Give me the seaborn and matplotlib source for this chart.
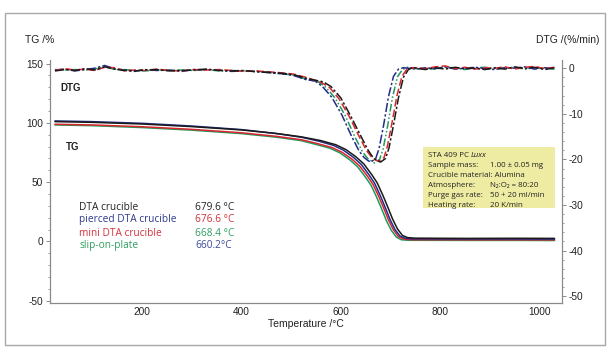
import numpy as np
import pandas as pd
import matplotlib.pyplot as plt
import matplotlib.patches as mpatches
from matplotlib.ticker import MultipleLocator
import seaborn as sns

# temperature grids (degC)
low_t = [25, 45, 65, 85, 105, 125, 145, 165, 185, 205, 230, 255, 280, 305,
         330, 355, 380, 405, 430, 455, 480, 505, 530]
high_t = [752, 770, 790, 810, 830, 850, 870, 890, 910, 930, 950, 970, 990, 1010, 1030]

# DTG curves (%/min): baseline before the step, the dip, baseline after
dtg_black_low = [-0.6, -0.3, -0.5, -0.1, -0.4, 0.3, -0.2, -0.5, -0.6, -0.4, -0.3, -0.6,
                 -0.5, -0.4, -0.2, -0.5, -0.6, -0.5, -0.8, -0.9, -1.1, -1.4, -2.2]
dtg_blue_low = [-0.4, -0.2, -0.6, -0.3, 0.0, 0.6, -0.1, -0.4, -0.7, -0.3, -0.5, -0.4,
                -0.7, -0.3, -0.3, -0.4, -0.7, -0.6, -0.7, -1.0, -1.2, -1.6, -2.5]
dtg_red_low = [-0.5, -0.1, -0.4, -0.2, -0.5, 0.2, 0.1, -0.6, -0.4, -0.5, -0.2, -0.5,
               -0.6, -0.3, -0.4, -0.3, -0.5, -0.7, -0.6, -0.8, -1.0, -1.3, -2.0]
dtg_green_low = [-0.3, -0.4, -0.3, -0.4, -0.2, 0.4, -0.3, -0.3, -0.5, -0.6, -0.4, -0.5,
                 -0.4, -0.5, -0.3, -0.6, -0.5, -0.6, -0.7, -0.9, -1.2, -1.5, -2.4]

dip_black_t = [565, 580, 600, 620, 640, 655, 665, 672, 680, 690, 697, 706, 716, 726, 736, 746]
dip_black = [-3.0, -4.0, -6.5, -10.5, -14.8, -18.0, -19.6, -20.2, -20.6, -19.8, -17.5,
             -12.5, -6.5, -2.0, -0.3, 0.2]
dip_red_t = [562, 578, 597, 617, 637, 652, 662, 669, 677, 687, 694, 703, 713, 723, 733, 743]
dip_red = [-3.2, -4.3, -6.8, -10.6, -15.0, -18.1, -19.5, -20.1, -20.4, -19.6, -17.0,
           -12.0, -6.0, -1.8, -0.2, 0.1]
dip_green_t = [555, 570, 589, 609, 629, 644, 654, 661, 668, 678, 685, 694, 704, 714, 724, 734]
dip_green = [-3.0, -4.2, -6.6, -10.4, -15.2, -18.4, -19.8, -20.3, -20.8, -20.0, -17.8,
             -12.8, -6.4, -1.9, -0.3, 0.2]
dip_blue_t = [548, 563, 582, 602, 622, 637, 647, 654, 660, 670, 677, 686, 696, 706, 716, 726]
dip_blue = [-2.8, -4.0, -6.4, -10.2, -15.0, -18.2, -19.6, -20.2, -20.6, -19.9, -17.6,
            -12.6, -6.2, -1.8, -0.2, 0.1]

dtg_black_high = [0.0, -0.3, 0.1, -0.2, 0.2, -0.1, 0.0, -0.3, 0.1, -0.2, 0.3, -0.1, 0.2, -0.3, 0.1]
dtg_blue_high = [-0.2, 0.1, -0.1, 0.3, -0.2, 0.0, 0.2, -0.1, -0.3, 0.1, 0.0, 0.3, -0.2, 0.1, -0.1]
dtg_red_high = [0.1, -0.1, 0.3, 0.5, -0.1, 0.2, -0.2, 0.1, 0.0, 0.3, -0.2, 0.2, 0.4, -0.1, 0.2]
dtg_green_high = [-0.1, 0.0, -0.2, 0.2, 0.1, -0.3, 0.1, 0.2, -0.1, 0.0, 0.2, -0.2, 0.1, 0.0, -0.2]

# TG curves (%)
tg_black_t = [25, 100, 200, 300, 400, 470, 520, 560, 590, 610, 630, 646, 662, 673, 684,
              694, 704, 714, 724, 734, 749, 850, 950, 1030]
tg_black = [101.0, 100.4, 99.0, 96.8, 94.0, 91.0, 88.2, 85.0, 81.5, 77.5, 71.5, 65.5, 56.5,
            49.5, 39.5, 29.5, 19.0, 10.5, 5.0, 3.2, 2.7, 2.5, 2.6, 2.5]
tg_blue_t = [25, 100, 200, 300, 400, 470, 520, 555, 585, 605, 625, 641, 657, 668, 679,
             689, 699, 709, 719, 729, 744, 850, 950, 1030]
tg_blue = [101.6, 101.0, 99.6, 97.3, 94.3, 91.0, 87.9, 84.6, 81.0, 77.0, 71.0, 65.0, 56.0,
           49.0, 39.0, 29.0, 18.5, 10.0, 4.5, 2.6, 2.1, 2.0, 2.0, 1.9]
tg_red_t = [25, 100, 200, 300, 400, 470, 520, 552, 582, 602, 622, 638, 654, 665, 676,
            686, 696, 706, 716, 726, 741, 850, 950, 1030]
tg_red = [98.8, 98.2, 96.7, 94.5, 91.6, 88.6, 85.8, 82.6, 79.2, 75.3, 69.5, 63.5, 54.8,
          48.0, 38.2, 28.4, 18.0, 9.6, 4.0, 1.9, 1.4, 1.3, 1.3, 1.2]
tg_green_t = [25, 100, 200, 300, 400, 470, 520, 548, 578, 598, 618, 634, 650, 661, 672,
              682, 692, 702, 712, 722, 737, 850, 950, 1030]
tg_green = [98.2, 97.6, 96.0, 93.8, 90.9, 87.9, 85.0, 82.0, 78.6, 74.7, 68.8, 62.8, 54.0,
            47.2, 37.4, 27.6, 17.2, 9.0, 3.5, 1.3, 0.9, 0.8, 0.8, 0.7]

labels = ["DTA crucible", "pierced DTA crucible", "mini DTA crucible", "slip-on-plate"]
peak_text = ["679.6 \u00b0C", "676.6 \u00b0C", "668.4 \u00b0C", "660.2\u00b0C"]

c_black, c_blue, c_red, c_green = "#1a1a1a", "#232c86", "#d8262f", "#1f9a5c"
label_colors = ["#222222", "#2d3a8e", "#d3313a", "#2e9e5e"]
value_colors = ["#222222", "#d3313a", "#2e9e5e", "#3a4a9a"]

sns.set_style("white")
plt.rcParams["font.family"] = ["Liberation Sans", "DejaVu Sans"]
plt.rcParams["axes.unicode_minus"] = False

fig = plt.figure(figsize=(6.11, 3.55), dpi=100)
ax = fig.add_axes([0.0818, 0.1465, 0.8380, 0.6845])
ax2 = ax.twinx()

# TG
for t, v, c in [(tg_green_t, tg_green, c_green), (tg_red_t, tg_red, c_red),
                (tg_blue_t, tg_blue, c_blue), (tg_black_t, tg_black, c_black)]:
    sns.lineplot(x=t, y=v, ax=ax, color=c, lw=1.1)

# DTG
dtg_sets = [
    (dip_green_t, dtg_green_low, dip_green, dtg_green_high, c_green, (0, (5, 1.5, 1, 1.5, 1, 1.5))),
    (dip_blue_t, dtg_blue_low, dip_blue, dtg_blue_high, c_blue, (0, (6, 1.5, 1.5, 1.5))),
    (dip_red_t, dtg_red_low, dip_red, dtg_red_high, c_red, (0, (5, 2))),
    (dip_black_t, dtg_black_low, dip_black, dtg_black_high, c_black, (0, (6, 1.5, 1.5, 1.5))),
]
for dt, lo, dip, hi, c, ls in dtg_sets:
    df = pd.DataFrame({"T": low_t + dt + high_t, "v": lo + dip + hi})
    sns.lineplot(data=df, x="T", y="v", ax=ax2, color=c, lw=1.1, linestyle=ls)

ax.set_xlim(15, 1045)
ax.set_ylim(-52, 153)
ax2.set_ylim(-51.5, 1.8)

ax.xaxis.set_major_locator(MultipleLocator(200))
ax.xaxis.set_minor_locator(MultipleLocator(100))
ax.yaxis.set_major_locator(MultipleLocator(50))
ax.yaxis.set_minor_locator(MultipleLocator(10))
ax2.yaxis.set_major_locator(MultipleLocator(10))
ax2.yaxis.set_minor_locator(MultipleLocator(2))
ax.set_xticks([200, 400, 600, 800, 1000])

tick_kw = dict(labelsize=7.3, colors="#8a8a8a", labelcolor="#222222", width=0.7)
ax.tick_params(axis="x", which="major", direction="in", length=3, pad=3, **tick_kw)
ax.tick_params(axis="x", which="minor", direction="in", length=2, colors="#8a8a8a", width=0.6)
ax.tick_params(axis="y", which="major", direction="out", length=3, pad=2, **tick_kw)
ax.tick_params(axis="y", which="minor", direction="out", length=1.5, colors="#8a8a8a", width=0.6)
ax2.tick_params(axis="y", which="major", direction="out", length=3, pad=2, **tick_kw)
ax2.tick_params(axis="y", which="minor", direction="out", length=1.5, colors="#8a8a8a", width=0.6)

for a in (ax, ax2):
    a.spines["top"].set_visible(False)
    for s in ("left", "right", "bottom"):
        a.spines[s].set_color("#8a8a8a")
        a.spines[s].set_linewidth(0.8)
ax.set_ylabel("")
ax2.set_ylabel("")
ax.set_xlabel("Temperature /\u00b0C", fontsize=7.5, labelpad=1, color="#222222")

fig.text(25 / 611, 1 - 40 / 355, "TG /%", fontsize=7.5, va="center", color="#222222")
fig.text(600 / 611, 1 - 40 / 355, "DTG /(%/min)", fontsize=7.5, va="center", ha="right",
         color="#222222")

ax.text(0.02, 0.885, "DTG", transform=ax.transAxes, fontsize=7, fontweight="bold",
        va="center", color="#222222")
ax.text(0.031, 0.642, "TG", transform=ax.transAxes, fontsize=7, fontweight="bold",
        va="center", color="#222222")

leg_y = [0.395, 0.342, 0.288, 0.235]
for lab, val, lc, vc, yy in zip(labels, peak_text, label_colors, value_colors, leg_y):
    ax.text(0.057, yy, lab, transform=ax.transAxes, fontsize=7.3, color=lc,
            va="center", family="Open Sans")
    ax.text(0.283, yy, val, transform=ax.transAxes, fontsize=7.3, color=vc,
            va="center", family="Open Sans")

# info box
ax.add_patch(mpatches.Rectangle((0.729, 0.391), 0.257, 0.251, transform=ax.transAxes,
                                facecolor="#eeeca2", edgecolor="none", zorder=3))
box_font = ["Open Sans", "DejaVu Sans"]
box_left = ["STA 409 PC ", "Sample mass:", "Crucible material: Alumina",
            "Atmosphere:", "Purge gas rate:", "Heating rate:"]
box_right = ["", "1.00 \u00b1 0.05 mg", "", "N\u2082:O\u2082 = 80:20", "50 + 20 ml/min", "20 K/min"]
for i, (l, r) in enumerate(zip(box_left, box_right)):
    yy = 0.607 - i * 0.041
    t = ax.text(0.738, yy, l, transform=ax.transAxes, fontsize=5.7, va="center",
                family=box_font, color="#222222", zorder=4)
    if i == 0:
        fig.canvas.draw()
        bb = t.get_window_extent().transformed(ax.transAxes.inverted())
        ax.text(bb.x1, yy, "Luxx", transform=ax.transAxes, fontsize=5.7, va="center",
                family=box_font, style="italic", color="#222222", zorder=4)
    if r:
        ax.text(0.86, yy, r, transform=ax.transAxes, fontsize=5.7, va="center",
                family=box_font, color="#222222", zorder=4)

# outer frame
fig.patches.append(mpatches.Rectangle((5 / 611, 10 / 355), 600 / 611, 332 / 355,
                                      transform=fig.transFigure, fill=False,
                                      edgecolor="#a8a8a8", lw=1.0))

fig.savefig("out.png", dpi=100)
